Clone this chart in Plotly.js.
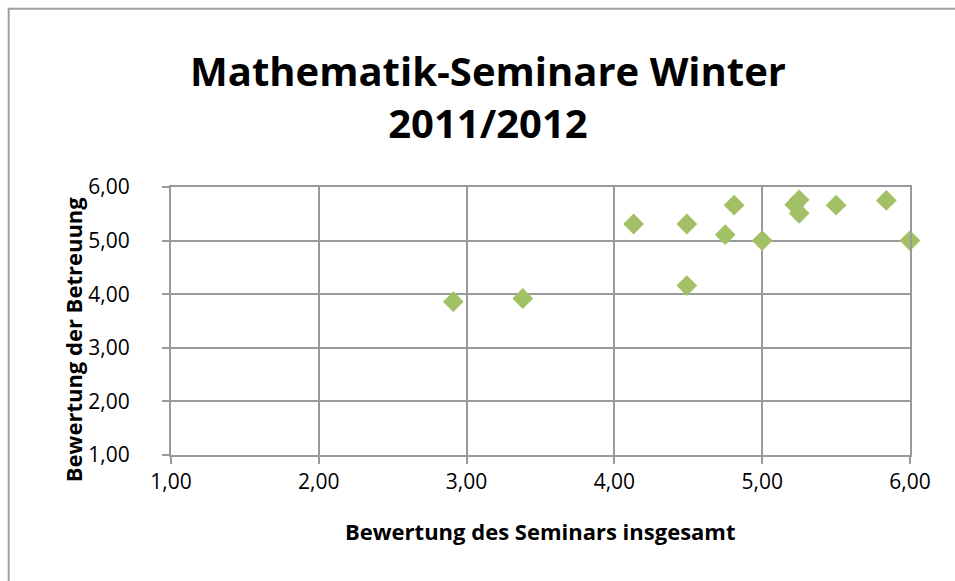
<!DOCTYPE html>
<html>
<head>
<meta charset="utf-8">
<script src="https://cdn.plot.ly/plotly-3.0.1.min.js"></script>
<style>
  html, body { margin: 0; padding: 0; background: #ffffff; overflow: hidden; }
  #chart { width: 955px; height: 581px; }
</style>
</head>
<body>
<div id="chart"></div>
<script>
// Data
const seminarOverall = [2.91, 3.38, 4.13, 4.49, 4.49, 4.75, 4.81, 5.00, 5.22, 5.25, 5.25, 5.50, 5.84, 6.00];
const supervision    = [3.86, 3.92, 5.31, 5.31, 4.16, 5.11, 5.66, 5.00, 5.67, 5.76, 5.51, 5.66, 5.75, 5.00];
const tickValues = [1, 2, 3, 4, 5, 6];

const chartTitle = 'Mathematik-Seminare Winter<br>2011/2012';
const xTitle = 'Bewertung des Seminars insgesamt';
const yTitle = 'Bewertung der Betreuung';

const FONT = '"Open Sans", "Noto Sans", sans-serif';
const GRID = '#9a9a9a';

const trace = {
  type: 'scatter',
  mode: 'markers',
  x: seminarOverall,
  y: supervision,
  marker: { symbol: 'diamond', size: 16, color: '#a2c167', line: { width: 0 } },
  hoverinfo: 'x+y',
  showlegend: false,
  cliponaxis: false
};

const L = 170.5, R = 910.5, T = 187.3, B = 455.5, W = 955, H = 581;
const pw = R - L, ph = B - T;
function px(x) { return (x - L) / pw; }
function py(y) { return (B - y) / ph; }

const layout = {
  width: W, height: H,
  margin: { l: L, r: W - R, t: T, b: H - B, pad: 0 },
  paper_bgcolor: '#ffffff',
  plot_bgcolor: '#ffffff',
  separators: ',.',
  font: { family: FONT, color: '#000000', size: 21 },
  xaxis: {
    range: [1, 6],
    tickvals: tickValues,
    tickformat: '.2f',
    showgrid: true, gridcolor: GRID, gridwidth: 2,
    showline: true, linecolor: GRID, linewidth: 2, mirror: true,
    ticks: 'outside', ticklen: 7, tickwidth: 2, tickcolor: GRID,
    tickfont: { family: FONT, size: 21, color: '#000000' },
    zeroline: false,
    fixedrange: true
  },
  yaxis: {
    range: [1, 6],
    tickvals: tickValues,
    tickformat: '.2f',
    showgrid: true, gridcolor: GRID, gridwidth: 2,
    showline: true, linecolor: GRID, linewidth: 2, mirror: true,
    ticks: 'outside', ticklen: 7, tickwidth: 2, tickcolor: GRID,
    tickfont: { family: FONT, size: 21, color: '#000000' },
    ticklabelstandoff: 28,
    zeroline: false,
    fixedrange: true
  },
  annotations: [
    {
      text: '<b>' + chartTitle + '</b>',
      xref: 'paper', yref: 'paper',
      x: px(488), y: py(97),
      xanchor: 'center', yanchor: 'middle',
      showarrow: false,
      font: { family: FONT, size: 40, color: '#000000' }
    },
    {
      text: '<b>' + xTitle + '</b>',
      xref: 'paper', yref: 'paper',
      x: px(540), y: py(532),
      xanchor: 'center', yanchor: 'middle',
      showarrow: false,
      font: { family: FONT, size: 22, color: '#000000' }
    },
    {
      text: '<b>' + yTitle + '</b>',
      xref: 'paper', yref: 'paper',
      x: px(72), y: py(340),
      xanchor: 'center', yanchor: 'middle',
      textangle: -90,
      showarrow: false,
      font: { family: FONT, size: 22, color: '#000000' }
    }
  ],
  shapes: [
    {
      type: 'line', xref: 'paper', yref: 'paper',
      x0: px(8), x1: px(8), y0: py(600), y1: py(8),
      line: { color: '#a0a0a0', width: 2 },
      layer: 'below'
    },
    {
      type: 'line', xref: 'paper', yref: 'paper',
      x0: px(7), x1: px(960), y0: py(9), y1: py(9),
      line: { color: '#a0a0a0', width: 2 },
      layer: 'below'
    }
  ]
};

Plotly.newPlot('chart', [trace], layout, { displayModeBar: false, staticPlot: true });
</script>
</body>
</html>
